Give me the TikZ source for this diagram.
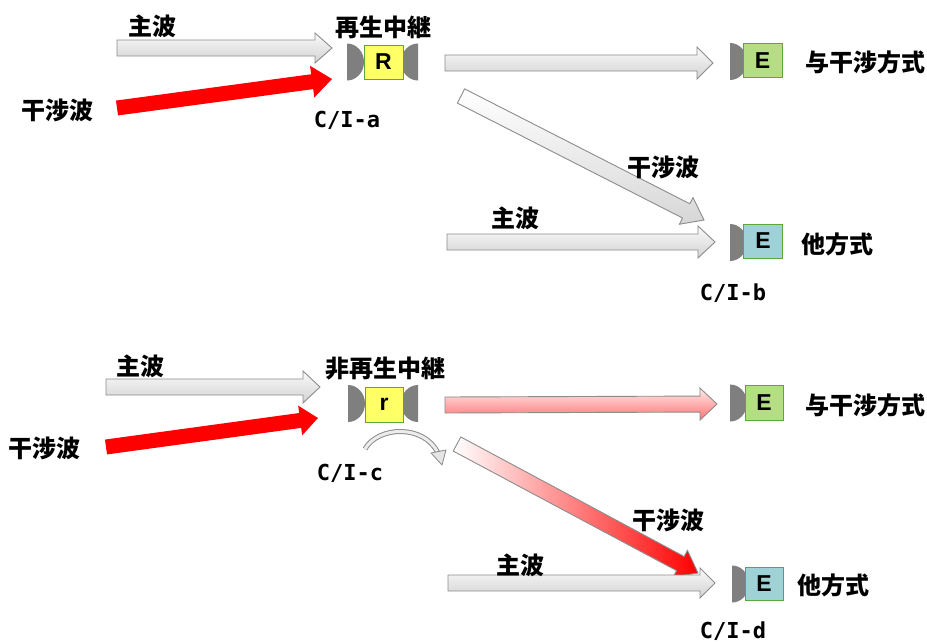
\documentclass[tikz,border=0pt]{standalone}
\usepackage{fontspec}
\usetikzlibrary{calc}
\newfontfamily\cjk{Noto Sans CJK JP}
\newfontfamily\monof{DejaVu Sans Mono}
\setsansfont{Liberation Sans}
\definecolor{dishgray}{HTML}{7F7F7F}
\definecolor{arrline}{HTML}{8C8C8C}
\definecolor{ybox}{HTML}{FFFF66}
\definecolor{gbox}{HTML}{B5DE84}
\definecolor{tbox}{HTML}{9ED2D6}
\definecolor{boxline}{HTML}{5AA83A}
% #1 style, #2 tail, #3 tip, #4 shaft half width, #5 head half width, #6 head length (pt)
\newcommand{\blockarr}[6]{%
  \coordinate (hb) at ($(#3)!#6pt!(#2)$);
  \path[#1] ($(#2)!#4pt!90:(#3)$) -- ($(hb)!#4pt!90:(#3)$) -- ($(hb)!#5pt!90:(#3)$) -- (#3)
    -- ($(hb)!#5pt!-90:(#3)$) -- ($(hb)!#4pt!-90:(#3)$) -- ($(#2)!#4pt!-90:(#3)$) -- cycle;}
% dish: #1 x of flat edge, #2 y centre, #3 direction (+1 right, -1 left)
\newcommand{\dish}[3]{%
  \begin{scope}
    \clip (#1,#2-20) rectangle (#1+#3*20,#2+20);
    \fill[dishgray] (#1,#2) ellipse [x radius=17, y radius=18.5];
  \end{scope}}
\begin{document}
\begin{tikzpicture}[x=1pt,y=-1pt,
  lbl/.style={font=\cjk\bfseries\fontsize{24}{26}\selectfont, inner sep=0pt},
  cilbl/.style={font=\monof\bfseries\fontsize{22}{24}\selectfont, inner sep=0pt},
  boxn/.style={draw=boxline, line width=0.9pt, minimum width=39pt, minimum height=34pt,
    inner sep=0pt, font=\sffamily\bfseries\fontsize{23}{23}\selectfont},
  grayarr/.style={draw=arrline, line width=0.9pt, top color=gray!4, bottom color=gray!35},
  redarr/.style={fill=red},
  pinkarr/.style={draw=arrline, line width=0.9pt, top color=red!8, bottom color=red!55},
  graddiag/.style={draw=arrline, line width=0.9pt, left color=white, right color=red},
  graydiag/.style={draw=arrline, line width=0.9pt, top color=white, bottom color=gray!32}]
\useasboundingbox[fill=white] (0,0) rectangle (927,643);

% ---------- top: regenerative relay ----------
\dish{347}{62}{1}
\dish{418}{62}{-1}
\node[boxn, fill=ybox] (R) at (383.5,62) {R};
\dish{730}{61.5}{1}
\node[boxn, fill=gbox] (E1) at (762.5,60.5) {E};
\dish{730}{242.5}{1}
\node[boxn, fill=tbox] (E2) at (763,241) {E};

\coordinate (a1t) at (117,48);  \coordinate (a1h) at (332,48);
\coordinate (a2t) at (117,108); \coordinate (a2h) at (332,79);
\coordinate (a3t) at (445,63);  \coordinate (a3h) at (713,63);
\coordinate (a4t) at (461,96);  \coordinate (a4h) at (704,220);
\coordinate (a5t) at (447,242); \coordinate (a5h) at (715,242);
\blockarr{grayarr}{a1t}{a1h}{8}{15}{17}
\blockarr{redarr}{a2t}{a2h}{7.5}{16}{20}
\blockarr{grayarr}{a3t}{a3h}{8}{16}{16}
\blockarr{graydiag}{a4t}{a4h}{8}{15}{20}
\blockarr{grayarr}{a5t}{a5h}{8}{16}{17}

\node[lbl] (t1) at (152,26) {主波};
\node[lbl] (t2) at (57,110) {干涉波};
\node[lbl] (t3) at (383,27) {再生中継};
\node[cilbl] (t4) at (347,120) {C/I-a};
\node[lbl, anchor=west] (t5) at (805,62) {与干涉方式};
\node[lbl] (t6) at (663,167) {干涉波};
\node[lbl] (t7) at (515,218) {主波};
\node[lbl, anchor=west] (t8) at (801,244) {他方式};
\node[cilbl] (t9) at (733,293) {C/I-b};

% ---------- bottom: non-regenerative relay ----------
\dish{348}{403.5}{1}
\dish{418}{403.5}{-1}
\node[boxn, fill=ybox, minimum width=38pt, minimum height=35pt] (r) at (384,404.5) {r};
\dish{730}{403}{1}
\node[boxn, fill=gbox, minimum width=38pt, minimum height=35pt] (E3) at (764,402.5) {E};
\dish{732}{584}{1}
\node[boxn, fill=tbox, minimum width=38pt, minimum height=33pt] (E4) at (764,583.5) {E};

\coordinate (b1t) at (106,387); \coordinate (b1h) at (320,387);
\coordinate (b2t) at (106,447); \coordinate (b2h) at (318,418);
\coordinate (b3t) at (445,405); \coordinate (b3h) at (717,404);
\coordinate (b4t) at (457,444); \coordinate (b4h) at (698,573);
\coordinate (b5t) at (448,583); \coordinate (b5h) at (715,583);
\blockarr{grayarr}{b1t}{b1h}{8}{16}{17}
\blockarr{redarr}{b2t}{b2h}{7.5}{15}{18}
\blockarr{pinkarr}{b3t}{b3h}{8}{16}{17}
\blockarr{graddiag}{b4t}{b4h}{8}{15}{20}
\blockarr{grayarr}{b5t}{b5h}{8}{15}{15}

% curved arrow under r
\coordinate (c1) at (365,449);
\coordinate (c2) at (438,453);
\draw[arrline, line width=5pt] (c1) .. controls (378,426) and (424,424) .. (c2);
\draw[gray!15, line width=3pt] (c1) .. controls (378,426) and (424,424) .. (c2);
\draw[arrline, fill=gray!20, line width=0.8pt, line join=round] (431,453) -- (446,450) -- (442,465) -- cycle;

\node[lbl] (u1) at (140,366) {主波};
\node[lbl] (u2) at (45,448) {干涉波};
\node[lbl] (u3) at (385,369) {非再生中継};
\node[cilbl] (u4) at (350,473) {C/I-c};
\node[lbl, anchor=west] (u5) at (805,405) {与干涉方式};
\node[lbl] (u6) at (668,520) {干涉波};
\node[lbl] (u7) at (520,565) {主波};
\node[lbl, anchor=west] (u8) at (797,585) {他方式};
\node[cilbl] (u9) at (733,631) {C/I-d};
\end{tikzpicture}
\end{document}
